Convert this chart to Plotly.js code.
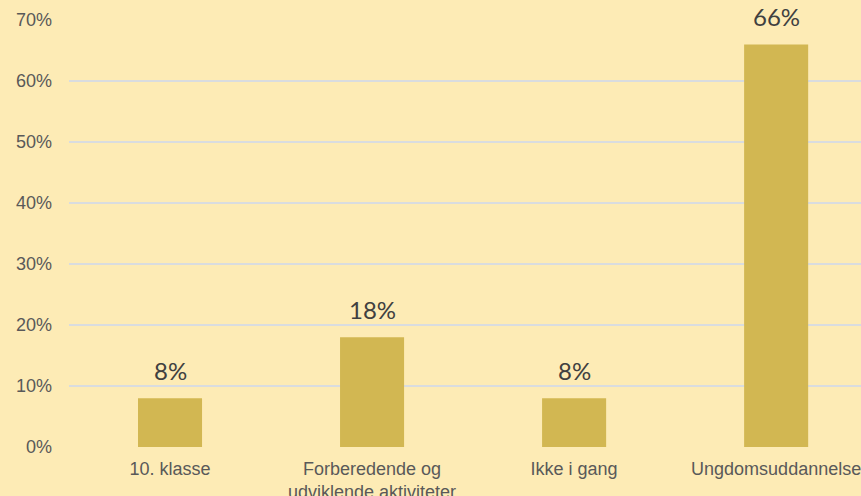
<!DOCTYPE html>
<html>
<head>
<meta charset="utf-8">
<script src="https://cdn.plot.ly/plotly-3.0.1.min.js"></script>
<style>html,body{margin:0;padding:0;background:#FDEBB5;}#chart{width:861px;height:496px;}</style>
</head>
<body>
<div id="chart"></div>
<script>
const categories = ["10. klasse", "Forberedende og<br>udviklende aktiviteter", "Ikke i gang", "Ungdomsuddannelse"];
const values = [0.08, 0.18, 0.08, 0.66];
const labels = ["8%", "18%", "8%", "66%"];
const yTicks = [0, 0.1, 0.2, 0.3, 0.4, 0.5, 0.6, 0.7];

const trace = {
  type: "bar",
  x: categories,
  y: values,
  width: 0.317,
  marker: {color: "#D2B752"},
  hoverinfo: "skip"
};

const annotations = categories.map((c, i) => ({
  x: c, y: values[i], xref: "x", yref: "y",
  text: labels[i], showarrow: false, yanchor: "bottom", yshift: 11,
  font: {family: "Lato, 'Noto Sans', sans-serif", size: 24, color: "#404040"}
}));

const layout = {
  width: 861, height: 496,
  paper_bgcolor: "#FDEBB5", plot_bgcolor: "#FDEBB5",
  margin: {l: 69, r: 0, t: 20, b: 49},
  showlegend: false,
  xaxis: {
    range: [-0.5, 3.42], showgrid: false, zeroline: false, showline: false,
    ticks: "", tickfont: {family: "'Liberation Sans', Arial, sans-serif", size: 18, color: "#595959"},
    ticklabelstandoff: 9
  },
  yaxis: {
    range: [0, 0.7], tickvals: yTicks, tickformat: ".0%",
    showgrid: true, gridcolor: "#D9DCDF", gridwidth: 2, zeroline: false, showline: false, ticks: "",
    tickfont: {family: "'Liberation Sans', Arial, sans-serif", size: 18, color: "#595959"},
    ticklabelstandoff: 16
  },
  annotations: annotations
};

Plotly.newPlot("chart", [trace], layout, {displayModeBar: false, staticPlot: true});
</script>
</body>
</html>
